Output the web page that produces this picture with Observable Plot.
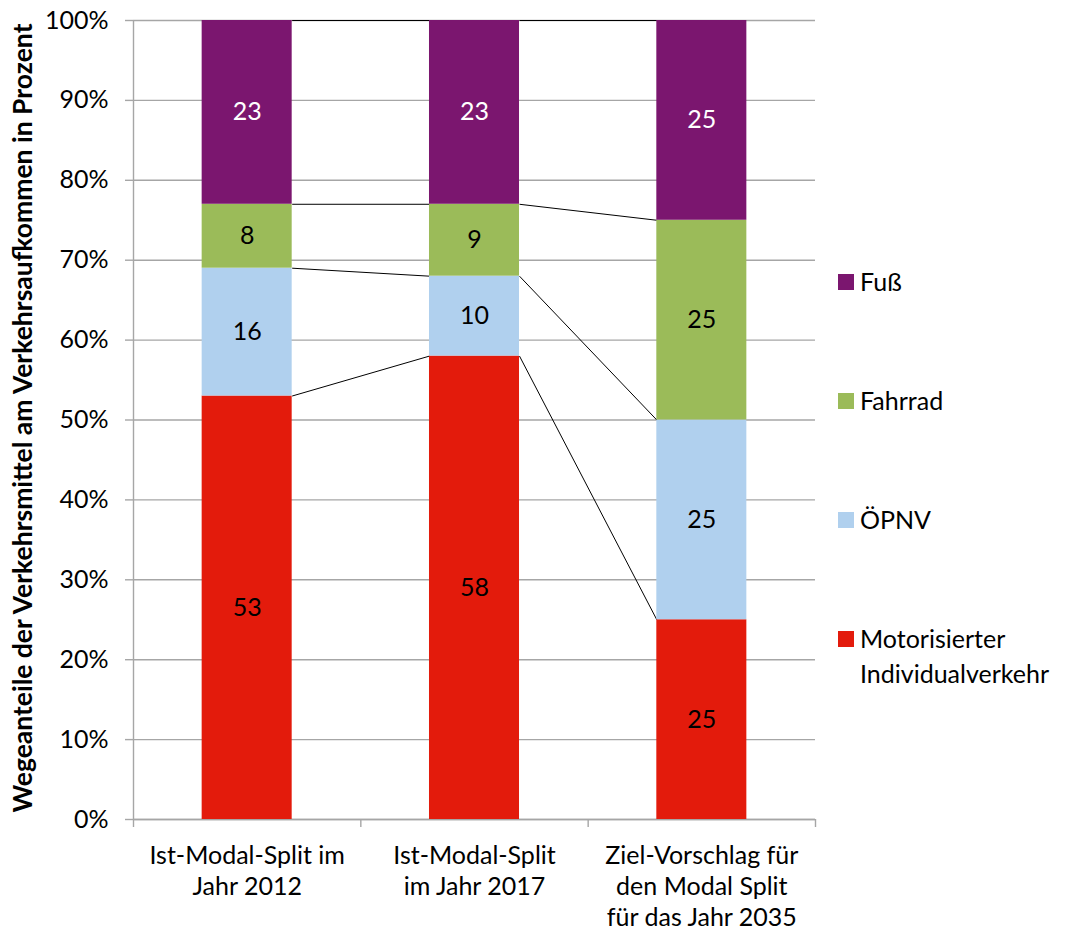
<!DOCTYPE html>
<html><head><meta charset="utf-8">
<script src="https://cdn.jsdelivr.net/npm/d3@7"></script>
<script src="https://cdn.jsdelivr.net/npm/@observablehq/plot@0.6"></script>
<style>
body{margin:0;background:#fff;font-family:Lato,sans-serif}
#wrap{position:relative;width:1068px;height:934px}
.leg{position:absolute;font-size:25px;line-height:35px;color:#000;white-space:nowrap}
.sw{position:absolute;width:16px;height:16px}
</style></head><body><div id="wrap"></div>
<script>
const categories = ["Ist-Modal-Split im\nJahr 2012", "Ist-Modal-Split\nim Jahr 2017", "Ziel-Vorschlag für\nden Modal Split\nfür das Jahr 2035"];
const modes = ["Motorisierter Individualverkehr", "ÖPNV", "Fahrrad", "Fuß"];
const mivValues = [53, 58, 25];
const oepnvValues = [16, 10, 25];
const fahrradValues = [8, 9, 25];
const fussValues = [23, 23, 25];
const yTicks = [0, 10, 20, 30, 40, 50, 60, 70, 80, 90, 100];
const yTitle = "Wegeanteile der Verkehrsmittel am Verkehrsaufkommen in Prozent";
const colors = ["#E31B0C", "#B0D0EE", "#9BBB59", "#7B166F"];
const labelColors = ["#000", "#000", "#000", "#fff"];

const series = [mivValues, oepnvValues, fahrradValues, fussValues];
const hw = 0.198;
const rows = [];
categories.forEach((c, i) => {
  let cum = 0;
  series.forEach((vals, k) => {
    const v = vals[i];
    rows.push({ci: i, mode: modes[k], k, value: v, y1: cum, y2: cum + v});
    cum += v;
  });
});
const links = [];
for (let i = 0; i < categories.length - 1; i++) {
  for (let k = 0; k < modes.length; k++) {
    const a = rows.find(r => r.ci === i && r.k === k);
    const b = rows.find(r => r.ci === i + 1 && r.k === k);
    links.push({x1: i + 0.5 + hw, x2: i + 1.5 - hw, y1: a.y2, y2: b.y2});
  }
}
const gray = "#a6a6a6";
const fs = 25;
const chart = Plot.plot({
  width: 1068, height: 934,
  marginLeft: 133, marginRight: 253, marginTop: 20, marginBottom: 115,
  style: {fontFamily: "Lato, sans-serif", fontSize: fs + "px", background: "#fff", color: "#000"},
  x: {type: "linear", domain: [0, categories.length], axis: null},
  y: {domain: [0, 100], axis: null},
  marks: [
    Plot.gridY(yTicks, {stroke: gray, strokeOpacity: 1, strokeWidth: 1.4}),
    Plot.axisY(yTicks, {tickFormat: d => d + "%", tickSize: 8, tickPadding: 17, stroke: gray, strokeWidth: 1.4, fill: "#000", label: null, fontSize: fs}),
    Plot.ruleX([0], {stroke: gray, strokeWidth: 1.4}),
    Plot.axisX([0, 1, 2, 3], {tickFormat: () => "", tickSize: 8, stroke: gray, strokeWidth: 1.4, label: null}),
    Plot.ruleY([0], {stroke: gray, strokeWidth: 1.4}),
    Plot.link(links, {x1: "x1", x2: "x2", y1: "y1", y2: "y2", stroke: "#000", strokeWidth: 1}),
    Plot.rect(rows, {x1: d => d.ci + 0.5 - hw, x2: d => d.ci + 0.5 + hw, y1: "y1", y2: "y2", fill: d => colors[d.k]}),
    Plot.text(rows, {x: d => d.ci + 0.5, y: d => (d.y1 + d.y2) / 2, text: d => String(d.value), fill: d => labelColors[d.k], fontSize: fs}),
    Plot.text(categories, {x: (d, i) => i + 0.5, y: 0, text: d => d, dy: 22, lineAnchor: "top", lineHeight: 1.24, fontSize: fs, fill: "#000"}),
    Plot.text([yTitle], {frameAnchor: "left", textAnchor: "middle", rotate: -90, dx: -110, dy: -2, text: d => d, fontWeight: "bold", fontSize: 26.5, fill: "#000"})
  ]
});
const wrap = document.getElementById("wrap");
wrap.appendChild(chart);
const legendTops = [631, 512, 393, 274];
const legendLabels = ["Motorisierter<br>Individualverkehr", "ÖPNV", "Fahrrad", "Fuß"];
modes.forEach((m, k) => {
  const sw = document.createElement("div");
  sw.className = "sw";
  sw.style.left = "838px";
  sw.style.top = legendTops[k] + "px";
  sw.style.background = colors[k];
  wrap.appendChild(sw);
  const t = document.createElement("div");
  t.className = "leg";
  t.style.left = "860px";
  t.style.top = (legendTops[k] - 10) + "px";
  t.innerHTML = legendLabels[k];
  wrap.appendChild(t);
});
</script></body></html>
